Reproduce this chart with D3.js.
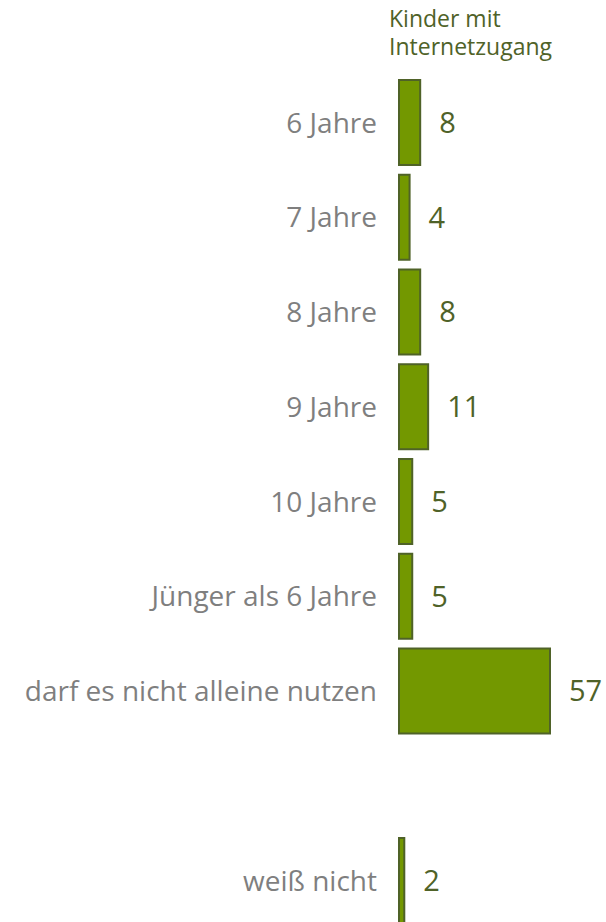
<!DOCTYPE html>
<html>
<head>
<meta charset="utf-8">
<script src="https://cdn.jsdelivr.net/npm/d3@7"></script>
<style>
  body { margin: 0; background: #fff; }
  text { font-family: "Open Sans", sans-serif; }
</style>
</head>
<body>
<div id="canvas"></div>
<script>
const width = 606;
const height = 922;

// data ("" is the empty slot before "weiß nicht")
const categories = ["6 Jahre", "7 Jahre", "8 Jahre", "9 Jahre", "10 Jahre",
  "Jünger als 6 Jahre", "darf es nicht alleine nutzen", "", "weiß nicht"];
const values = [8, 4, 8, 11, 5, 5, 57, null, 2];
const seriesTitle = ["Kinder mit", "Internetzugang"];

const rows = categories.map((c, i) => ({ cat: c, key: i, value: values[i] }));

const svg = d3.select("#canvas").append("svg")
  .attr("width", width)
  .attr("height", height);

const x = d3.scaleLinear()
  .domain([0, 57])
  .range([399, 550]);

const y = d3.scaleBand()
  .domain(rows.map(d => d.key))
  .range([80, 923])
  .paddingInner(0.103)
  .paddingOuter(0);

// series header
svg.append("text")
  .attr("x", 389)
  .attr("y", 27)
  .attr("fill", "#4f6228")
  .style("font-size", "23px")
  .selectAll("tspan")
  .data(seriesTitle)
  .enter().append("tspan")
  .attr("x", 389)
  .attr("dy", (d, i) => i === 0 ? 0 : 28)
  .text(d => d);

const bars = rows.filter(d => d.value != null);

svg.selectAll("rect.bar").data(bars)
  .enter().append("rect")
  .attr("class", "bar")
  .attr("x", x(0))
  .attr("y", d => y(d.key))
  .attr("width", d => x(d.value) - x(0))
  .attr("height", y.bandwidth())
  .attr("fill", "#739800")
  .attr("stroke", "#4f6228")
  .attr("stroke-width", 2);

// category labels
svg.selectAll("text.cat").data(bars)
  .enter().append("text")
  .attr("class", "cat")
  .attr("x", 377)
  .attr("y", d => y(d.key) + y.bandwidth() / 2)
  .attr("dy", "0.36em")
  .attr("text-anchor", "end")
  .attr("fill", "#7f7f7f")
  .style("font-size", "28px")
  .text(d => d.cat);

// value labels
svg.selectAll("text.val").data(bars)
  .enter().append("text")
  .attr("class", "val")
  .attr("x", d => x(d.value) + 19)
  .attr("y", d => y(d.key) + y.bandwidth() / 2)
  .attr("dy", "0.36em")
  .attr("fill", "#4f6228")
  .style("font-size", "29px")
  .text(d => d.value);
</script>
</body>
</html>
